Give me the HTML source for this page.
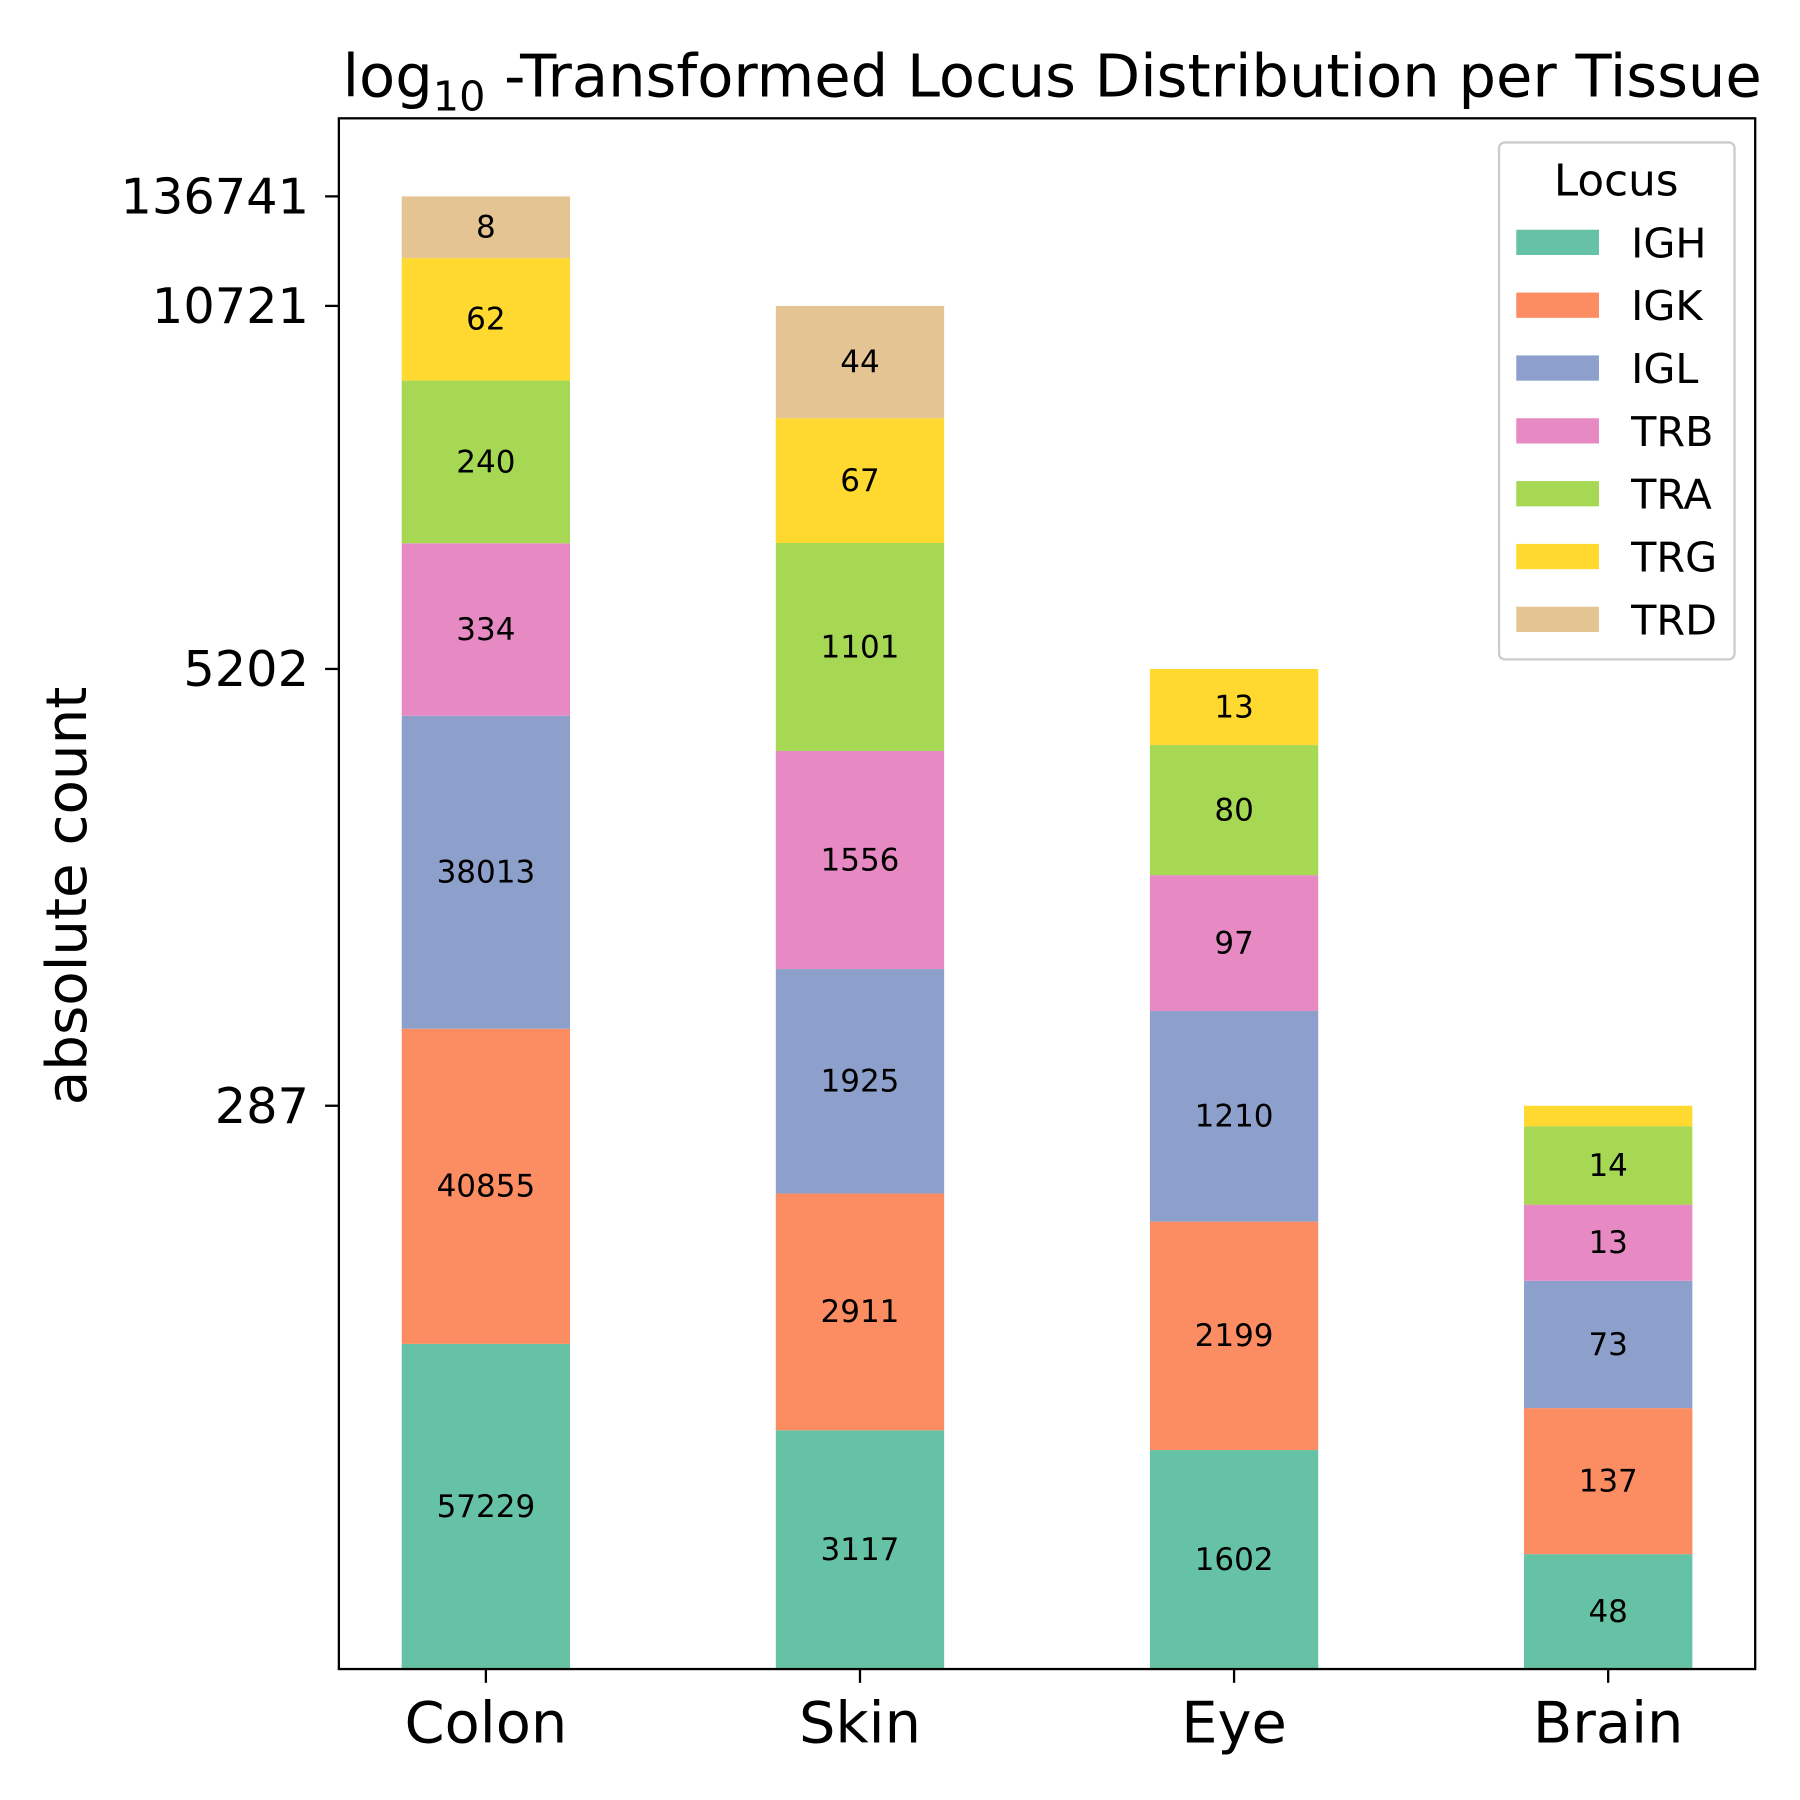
<!DOCTYPE html>
<html><head><meta charset="utf-8"><style>
html,body{margin:0;padding:0;background:#fff;}
svg{display:block;font-family:"DejaVu Sans","Liberation Sans",sans-serif;}
</style></head><body>
<svg id="chart" width="1800" height="1800" viewBox="0 0 1567 1567" xmlns="http://www.w3.org/2000/svg">
<rect x="0" y="0" width="1567" height="1567" fill="#fff"/>
<text x="916" y="84" font-size="51.5" text-anchor="middle">log<tspan font-size="36" dy="12">10</tspan><tspan dy="-12"> -Transformed Locus Distribution per Tissue</tspan></text>
<text transform="translate(75,780) rotate(-90)" font-size="49" text-anchor="middle">absolute count</text>
<g id="bars"></g>
<g id="yaxis"></g>
<g id="xaxis"></g>
<rect x="295" y="103" width="1233" height="1350" fill="none" stroke="#000" stroke-width="2"/>
<g id="legend"></g>
</svg>
<script>
const tissues = ["Colon","Skin","Eye","Brain"];
const loci = ["IGH","IGK","IGL","TRB","TRA","TRG","TRD"];
const colors = ["#66c2a5","#fc8d62","#8da0cb","#e78ac3","#a6d854","#ffd92f","#e5c494"];
const IGH = [57229,3117,1602,48];
const IGK = [40855,2911,2199,137];
const IGL = [38013,1925,1210,73];
const TRB = [334,1556,97,13];
const TRA = [240,1101,80,14];
const TRG = [62,67,13,2];
const TRD = [8,44,1,0];
const series = [IGH,IGK,IGL,TRB,TRA,TRG,TRD];

const NS="http://www.w3.org/2000/svg";
const L=295,R=1528,T=103,B=1453;
function mk(tag,attrs,parent){const e=document.createElementNS(NS,tag);for(const k in attrs)e.setAttribute(k,attrs[k]);parent.appendChild(e);return e;}
const lg=v=>v>0?Math.log10(v):0;
const totalsLog=tissues.map((t,i)=>series.reduce((s,a)=>s+lg(a[i]),0));
const totals=tissues.map((t,i)=>series.reduce((s,a)=>s+a[i],0));
const ymax=Math.max(...totalsLog)*1.053;
const y=v=>B-(v/ymax)*(B-T);
const pad=0.393;
const unit=(R-L)/(tissues.length-1+2*pad);
const xc=i=>L+unit*(pad+i);
const bw=unit*0.45;

const gb=document.getElementById('bars');
tissues.forEach((t,i)=>{
  let acc=0;
  series.forEach((arr,s)=>{
    const h=lg(arr[i]);
    const y0=y(acc), y1=y(acc+h);
    const r=mk('rect',{x:xc(i)-bw/2,y:y1,width:bw,height:Math.max(0,y0-y1),fill:colors[s]},gb);
    
    
    if(y0-y1>25){
      const tx=mk('text',{x:xc(i),y:(y0+y1)/2+9,'font-size':27,'text-anchor':'middle'},gb);
      tx.textContent=arr[i];
      
      
    }
    acc+=h;
  });
});
const gy=document.getElementById('yaxis');
tissues.forEach((t,i)=>{
  const yy=y(totalsLog[i]);
  const tk=mk('line',{x1:L-12,x2:L,y1:yy,y2:yy,stroke:'#000','stroke-width':2},gy);
  
  
  const tx=mk('text',{x:L-26,y:yy+15,'font-size':43,'text-anchor':'end'},gy);
  tx.textContent=totals[i];
  
  
});
const gx=document.getElementById('xaxis');
tissues.forEach((t,i)=>{
  const tk=mk('line',{x1:xc(i),x2:xc(i),y1:B,y2:B+12,stroke:'#000','stroke-width':2},gx);
  
  
  const tx=mk('text',{x:xc(i),y:B+64,'font-size':50,'text-anchor':'middle'},gx);
  tx.textContent=t;
  
  
});
const gl=document.getElementById('legend');
const box=mk('rect',{x:1305,y:124,width:205,height:450,rx:5,fill:'#fff','fill-opacity':0.8,stroke:'#ccc','stroke-width':2},gl);


const lt=mk('text',{x:1407,y:170,'font-size':38,'text-anchor':'middle'},gl);
lt.textContent='Locus';


loci.forEach((l,s)=>{
  const cy=211+s*54.7;
  const p=mk('rect',{x:1320,y:cy-11,width:72,height:22,fill:colors[s]},gl);
  
  
  const tx=mk('text',{x:1420,y:cy+13,'font-size':36},gl);
  tx.textContent=l;
  
  
});
</script>
</body></html>
